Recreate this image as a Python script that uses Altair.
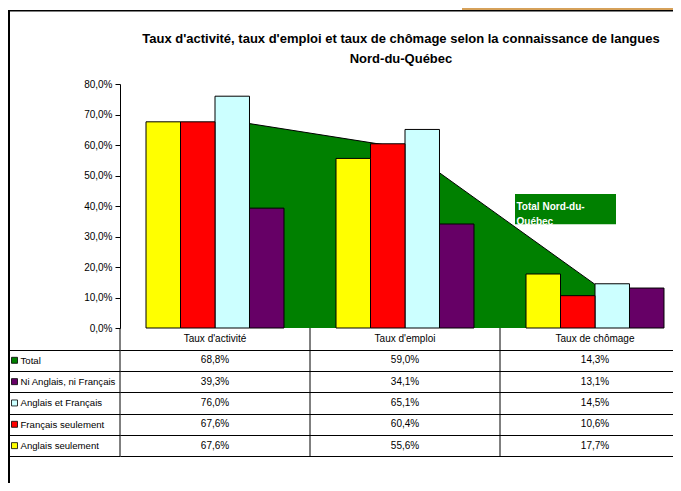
import altair as alt
import pandas as pd

# ---- data ----
categories = ["Taux d'activité", "Taux d'emploi", "Taux de chômage"]
series = ["Total", "Ni Anglais, ni Français", "Anglais et Français",
          "Français seulement", "Anglais seulement"]
total = [68.8, 59.0, 14.3]
ni_anglais_ni_francais = [39.3, 34.1, 13.1]
anglais_et_francais = [76.0, 65.1, 14.5]
francais_seulement = [67.6, 60.4, 10.6]
anglais_seulement = [67.6, 55.6, 17.7]
series_colors = ["#008000", "#660066", "#CCFFFF", "#FF0000", "#FFFF00"]
bar_order = ["Anglais seulement", "Français seulement", "Anglais et Français",
             "Ni Anglais, ni Français"]
y_ticks = [0, 10, 20, 30, 40, 50, 60, 70, 80]
title_lines = ["Taux d'activité, taux d'emploi et taux de chômage selon la connaissance de langues",
               "Nord-du-Québec"]
annotation_lines = ["Total Nord-du-", "Québec"]

FONT = "Liberation Sans"
W = 553          # visible part of the plot (the third column runs past the picture edge)
FULL = 570       # full width of the three category columns
H = 244          # plot height (0 % to 80 %)
TB = 128         # data-table height

rows = []
for s, vals in zip(series, [total, ni_anglais_ni_francais, anglais_et_francais,
                            francais_seulement, anglais_seulement]):
    for c, v in zip(categories, vals):
        rows.append({"categorie": c, "serie": s, "valeur": v, "ligne": s})
df = pd.DataFrame(rows)
header_df = pd.DataFrame({"categorie": categories, "ligne": ["entete"] * 3})
series_df = pd.DataFrame({"serie": series, "ligne": series})
one = pd.DataFrame({"d": [0]})
row_domain = ["entete"] + series

x_scale = alt.Scale(domain=categories, range=[0, FULL], paddingInner=0, paddingOuter=0)
color_scale = alt.Scale(domain=series, range=series_colors)

# ---------------- chart part ----------------
x_plot = alt.X("categorie:N", scale=x_scale, sort=categories,
               axis=alt.Axis(labels=False, ticks=False, title=None, grid=False,
                             domainColor="black", domainWidth=1))
y_scale = alt.Scale(domain=[0, 80], nice=False)
y_plot = alt.Y("valeur:Q", scale=y_scale,
               axis=alt.Axis(values=y_ticks, title=None, grid=False,
                             labelExpr="replace(format(datum.value, '.1f'), '.', ',') + '%'",
                             labelFont=FONT, labelFontSize=10, labelColor="black",
                             labelPadding=3, tickSize=5, tickColor="black",
                             domainColor="black", domainWidth=1))

base = alt.Chart(df)
area = base.transform_filter(alt.datum.serie == "Total").mark_area(
    color="#008000", opacity=1,
    line=alt.OverlayMarkDef(color="black", strokeWidth=1)
).encode(x=x_plot, y=y_plot)

bars = base.transform_filter(alt.datum.serie != "Total").mark_bar(
    stroke="black", strokeWidth=1, opacity=1
).encode(
    x=x_plot,
    xOffset=alt.XOffset("serie:N", sort=bar_order,
                        scale=alt.Scale(domain=bar_order, paddingInner=0, paddingOuter=0.754)),
    y=y_plot,
    color=alt.Color("serie:N", scale=color_scale, legend=None),
)

ann_box = alt.Chart(one).mark_rect(color="#008000").encode(
    x=alt.value(395), x2=alt.value(496), y=alt.value(110), y2=alt.value(140.3))
ann_text = alt.Chart(one).mark_text(
    text=annotation_lines, font=FONT, fontSize=10, fontWeight="bold", color="white",
    align="left", baseline="alphabetic", lineHeight=15
).encode(x=alt.value(396.5), y=alt.value(126))

title = alt.Chart(one).mark_text(
    text=title_lines, font=FONT, fontSize=13, fontWeight="bold", color="black",
    align="center", baseline="alphabetic", lineHeight=20
).encode(x=alt.value(281), y=alt.value(-41.3))

tab = alt.Chart(one).mark_rect(color="#D6A15A").encode(
    x=alt.value(342), x2=alt.value(W + 20), y=alt.value(-76), y2=alt.value(-74))
frame_top = alt.Chart(one).mark_rule(color="black", strokeWidth=1.5).encode(
    x=alt.value(-112), x2=alt.value(W + 20), y=alt.value(-73.2))
frame_left = alt.Chart(one).mark_rule(color="black", strokeWidth=2).encode(
    x=alt.value(-111), y=alt.value(-73.5), y2=alt.value(H + 160))

plot_part = alt.layer(tab, frame_top, frame_left, title, area, bars, ann_box, ann_text)

# ---------------- data table part ----------------
x_table = alt.X("categorie:N", scale=x_scale, sort=categories, axis=None)
row_scale = alt.Scale(domain=row_domain, range=[H + 0.3, H + 0.3 + TB],
                      paddingInner=0, paddingOuter=0)
y_table = alt.Y("ligne:N", scale=row_scale, sort=row_domain,
                axis=alt.Axis(orient="left", values=series, tickBand="extent", ticks=True,
                              tickSize=113, tickColor="black", tickWidth=1, grid=True,
                              gridColor="black", gridWidth=1, domain=False,
                              labelAlign="left", labelPadding=-13,
                              labelFont=FONT, labelFontSize=9.6, labelColor="black",
                              labelBaseline="middle", title=None))

header = alt.Chart(header_df).mark_text(font=FONT, fontSize=10, color="black").encode(
    x=x_table, y=y_table, text="categorie:N")
cells = alt.Chart(df).transform_calculate(
    texte="replace(format(datum.valeur, '.1f'), '.', ',') + '%'"
).mark_text(font=FONT, fontSize=10, color="black").encode(
    x=x_table, y=y_table, text="texte:N")
swatches = alt.Chart(series_df).mark_square(size=36, stroke="black", strokeWidth=0.8,
                                            opacity=1).encode(
    x=alt.value(-105.5), y=y_table,
    color=alt.Color("serie:N", scale=color_scale, legend=None))
col_lines = alt.Chart(header_df).mark_rule(color="black", strokeWidth=1).encode(
    x=alt.X("categorie:N", scale=x_scale, sort=categories, axis=None, bandPosition=0),
    y=alt.value(H), y2=alt.value(H + 0.3 + TB))

table_part = alt.layer(col_lines, header, cells, swatches)

chart = alt.layer(plot_part, table_part).resolve_scale(y="independent").properties(
    width=W, height=H,
    autosize=alt.AutoSizeParams(type="none"),
    padding={"left": 112, "top": 76, "right": 0, "bottom": 155},
    background="white",
).configure_view(stroke=None)

chart.save("out.html", embed_options={"renderer": "svg", "actions": False})
